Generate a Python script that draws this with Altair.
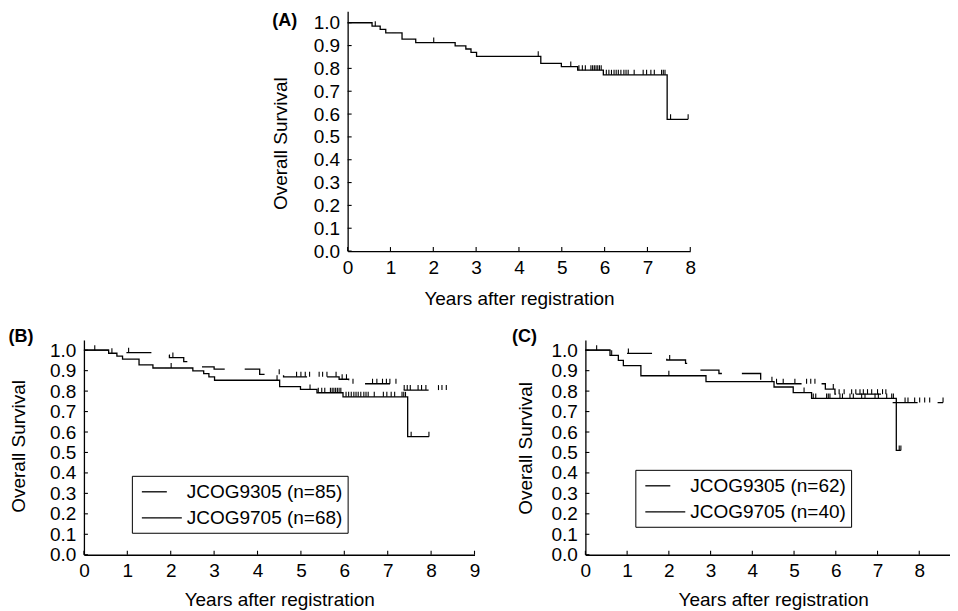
import altair as alt
import pandas as pd

FONT = "Liberation Sans"

# ---------------- data ----------------
# JCOG9705 (n=68) -- panel A and solid curve in panel B
t_9705_all = [0, 0.57, 0.76, 0.89, 1.27, 1.59, 2.51, 2.76, 2.88, 3.01, 4.51, 4.99, 5.37, 5.97, 7.46]
s_9705_all = [1.0, 0.985, 0.971, 0.956, 0.928, 0.913, 0.899, 0.885, 0.870, 0.853, 0.822, 0.808, 0.792, 0.772, 0.577]
end_9705_all = 7.95
cens_9705_all = [0.645, 2.01, 4.45, 5.21, 5.40, 5.48, 5.55, 5.68, 5.72, 5.76, 5.80, 5.84, 5.88, 5.92,
                 6.04, 6.10, 6.16, 6.22, 6.27, 6.32, 6.38, 6.45, 6.50, 6.55, 6.69, 6.90, 6.98, 7.08,
                 7.16, 7.33, 7.37, 7.41, 7.54, 7.95]

# JCOG9305 (n=85) -- dashed curve in panel B
t_9305_b = [0, 0.70, 1.70, 1.97, 2.30, 2.68, 3.00, 4.05, 4.60, 5.88, 6.10, 7.28]
s_9305_b = [1.0, 0.988, 0.976, 0.964, 0.944, 0.918, 0.907, 0.882, 0.870, 0.858, 0.836, 0.805]
end_9305_b = 8.35
cens_9305_b = [0.25, 1.03, 2.05, 4.50, 4.90, 5.00, 5.10, 5.20, 5.42, 5.50, 5.60, 5.81, 5.95, 6.05,
               6.20, 6.65, 6.75, 6.88, 6.97, 7.05, 7.19, 7.38, 7.45, 7.52, 7.70, 7.78, 7.88, 8.17,
               8.25, 8.35]

# JCOG9705 (n=40) -- solid curve in panel C
t_9705_c = [0, 0.59, 0.79, 0.91, 1.33, 2.89, 4.52, 4.98, 5.42, 7.45]
s_9705_c = [1.0, 0.975, 0.950, 0.925, 0.875, 0.846, 0.820, 0.793, 0.764, 0.510]
end_9705_c = 7.56
cens_9705_c = [0.63, 2.00, 4.47, 5.24, 5.46, 5.52, 5.78, 5.82, 5.86, 6.10, 6.16, 6.34, 6.42, 6.62,
               6.70, 6.94, 7.02, 7.22, 7.34, 7.38, 7.52, 7.56]

# JCOG9305 (n=62) -- dashed curve in panel C
t_9305_c = [0, 0.65, 1.70, 1.95, 2.40, 2.69, 3.20, 4.20, 4.50, 5.75, 5.98, 7.32]
s_9305_c = [1.0, 0.984, 0.968, 0.952, 0.936, 0.903, 0.886, 0.852, 0.836, 0.810, 0.785, 0.744]
end_9305_c = 8.57
cens_9305_c = [0.27, 1.03, 2.02, 4.58, 4.74, 5.02, 5.30, 5.40, 5.50, 5.94, 6.08, 6.20, 6.38, 6.48,
               6.58, 6.66, 6.76, 6.86, 7.00, 7.12, 7.20, 7.66, 7.73, 7.89, 8.01, 8.13, 8.25, 8.57]

labels_a = ["JCOG9705"]
labels_b = ["JCOG9305 (n=85)", "JCOG9705 (n=68)"]
labels_c = ["JCOG9305 (n=62)", "JCOG9705 (n=40)"]
y_ticks = [0.0, 0.1, 0.2, 0.3, 0.4, 0.5, 0.6, 0.7, 0.8, 0.9, 1.0]
YMAX = 1.05


def step_df(times, surv, end, series):
    t = list(times) + [end]
    s = list(surv) + [surv[-1]]
    return pd.DataFrame({"t": t, "s": s, "series": series, "o": list(range(len(t)))})


def cens_df(times, surv, cens, series, dh):
    rows = []
    for c in cens:
        idx = max(i for i, tt in enumerate(times) if tt <= c)
        rows.append({"t": c, "s": surv[idx], "s2": surv[idx] + dh, "series": series})
    return pd.DataFrame(rows)


def panel(curves, labels, xmax, w, h, letter, letter_xy, ytitle_xy, xtitle_y, legend_xy=None):
    px_per_y = h / YMAX
    px_per_x = w / xmax
    xs = alt.Scale(domain=[0, xmax], nice=False, zero=False)
    ys = alt.Scale(domain=[0, YMAX], nice=False, zero=False)
    xaxis = alt.Axis(values=list(range(xmax + 1)), format="d", ticks=False, grid=False,
                     labelFlush=False, labelOverlap=False, labelPadding=7, labelFontSize=19,
                     labelFont=FONT, labelColor="black", domainColor="black", domainWidth=1.3,
                     title="Years after registration", titleFont=FONT, titleFontSize=19,
                     titleFontWeight="normal", titleColor="black", titleX=w / 2, titleY=xtitle_y,
                     titleBaseline="middle", titleAlign="center")
    yaxis = alt.Axis(values=y_ticks, format=".1f", ticks=False, grid=False, labelPadding=8,
                     labelFontSize=19, labelFont=FONT, labelColor="black", domainColor="black",
                     domainWidth=1.3, title="Overall Survival", titleFont=FONT, titleFontSize=19,
                     titleFontWeight="normal", titleColor="black", titleAngle=270,
                     titleX=ytitle_xy[0], titleY=ytitle_xy[1], titleBaseline="middle",
                     titleAlign="center")
    X = alt.X("t:Q", scale=xs, axis=xaxis)
    Y = alt.Y("s:Q", scale=ys, axis=yaxis)

    line_df = pd.concat([step_df(*c[:3], c[4]) for c in curves], ignore_index=True)
    cdf = pd.concat([cens_df(c[0], c[1], c[3], c[4], 5 / px_per_y) for c in curves],
                    ignore_index=True)

    if legend_xy is not None:
        dash = alt.StrokeDash(
            "series:N",
            scale=alt.Scale(domain=labels, range=[[25, 20], [1, 0]]),
            legend=alt.Legend(orient="none", legendX=legend_xy[0], legendY=legend_xy[1],
                              title=None, strokeColor="black", padding=5, rowPadding=5,
                              symbolType="M-2,0L2,0", symbolSize=400, symbolOffset=14,
                              symbolStrokeColor="black", symbolStrokeWidth=1.3,
                              labelFontSize=19, labelFont=FONT, labelColor="black",
                              labelOffset=14, labelBaseline="middle"),
        )
    else:
        dash = alt.StrokeDash("series:N", scale=alt.Scale(domain=labels, range=[[1, 0]]),
                              legend=None)

    lines = alt.Chart(line_df).mark_line(interpolate="step-after", color="black",
                                         strokeWidth=1.3).encode(
        x=X, y=Y, strokeDash=dash, order="o:Q")
    cens = alt.Chart(cdf).mark_rule(color="black", strokeWidth=1.1).encode(
        x=X, y=Y, y2="s2:Q")

    xt = pd.DataFrame({"t": list(range(xmax + 1)), "s": 0.0, "s2": 4 / px_per_y})
    yt = pd.DataFrame({"t": 0.0, "t2": 4 / px_per_x, "s": y_ticks})
    xticks = alt.Chart(xt).mark_rule(color="black", strokeWidth=1.1).encode(x=X, y=Y, y2="s2:Q")
    yticks = alt.Chart(yt).mark_rule(color="black", strokeWidth=1.1).encode(x=X, x2="t2:Q", y=Y)

    lab = alt.Chart(pd.DataFrame({"lab": [letter]})).mark_text(
        font=FONT, fontSize=18, fontWeight="bold", color="black", align="center",
        baseline="middle").encode(text="lab:N", x=alt.value(letter_xy[0]),
                                  y=alt.value(letter_xy[1]))

    return alt.layer(yticks, xticks, lines, cens, lab).properties(width=w, height=h)


A = panel([(t_9705_all, s_9705_all, end_9705_all, cens_9705_all, labels_a[0])],
          labels_a, 8, 343, 240, "(A)", (-63, 10), (-67, 132), 47)

B = panel([(t_9305_b, s_9305_b, end_9305_b, cens_9305_b, labels_b[0]),
           (t_9705_all, s_9705_all, end_9705_all, cens_9705_all, labels_b[1])],
          labels_b, 9, 391, 215, "(B)", (-63, -3), (-65, 106), 45, (48, 136))

C = panel([(t_9305_c, s_9305_c, end_9305_c, cens_9305_c, labels_c[0]),
           (t_9705_c, s_9705_c, end_9705_c, cens_9705_c, labels_c[1])],
          labels_c, 9, 376, 215, "(C)", (-61, -3), (-60, 108), 45, (50, 130))

spacer = alt.Chart(pd.DataFrame({"a": [0]})).mark_point(opacity=0, size=0).encode(
    x=alt.value(1), y=alt.value(1)).properties(width=178, height=10)

top = alt.hconcat(spacer, A, spacing=10).resolve_scale(strokeDash="independent").resolve_legend(
    strokeDash="independent")
bottom = alt.hconcat(B, C, spacing=31).resolve_scale(strokeDash="independent").resolve_legend(
    strokeDash="independent")

chart = alt.vconcat(top, bottom, spacing=20).resolve_scale(
    strokeDash="independent").resolve_legend(strokeDash="independent").properties(
    padding={"left": 0, "top": 3, "right": -17, "bottom": 0}
).configure_view(stroke=None)

chart.save("out.html", embed_options={"renderer": "svg", "actions": False})
